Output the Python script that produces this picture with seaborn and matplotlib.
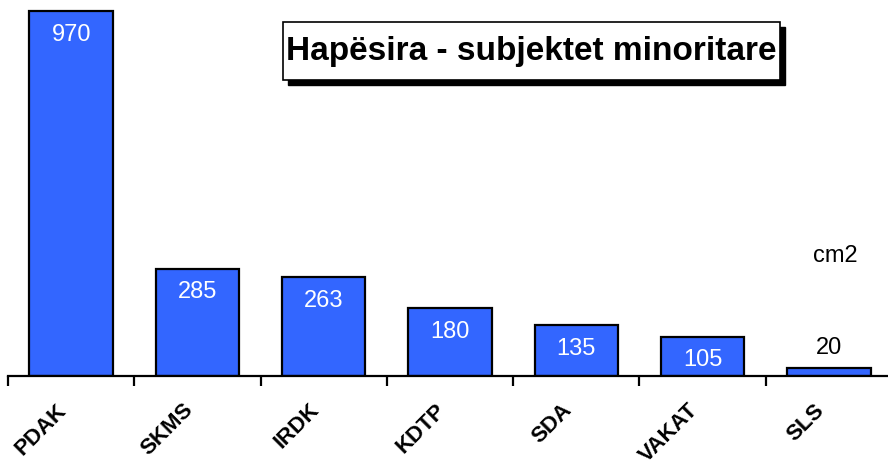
import matplotlib
matplotlib.use('Agg')
import matplotlib.pyplot as plt
from matplotlib.patches import Rectangle
import seaborn as sns
import pandas as pd

# data
parties = ['PDAK', 'SKMS', 'IRDK', 'KDTP', 'SDA', 'VAKAT', 'SLS']
space_cm2 = [970, 285, 263, 180, 135, 105, 20]

title = 'Hapësira - subjektet minoritare'
unit = 'cm2'

sns.set_style('white')
plt.rcParams['font.family'] = ['Liberation Sans', 'DejaVu Sans']
plt.rcParams['text.color'] = 'black'
plt.rcParams['xtick.color'] = 'black'

df = pd.DataFrame({'party': parties, 'space': space_cm2})

fig = plt.figure(figsize=[8.88, 4.65], dpi=100)
ax = fig.add_axes([8 / 888, 1 - 376 / 465, 884 / 888, 376 / 465])

sns.barplot(data=df, x='party', y='space', color='#3366FF', saturation=1,
            edgecolor='black', linewidth=1.6, width=0.66, ax=ax)

ax.set_ylim(0, 1000)
ax.set_xlim(-0.5, len(parties) - 0.5)
ax.set_xlabel('')
ax.set_ylabel('')
ax.set_yticks([])

# only the bottom axis line is shown
for side in ['top', 'left', 'right']:
    ax.spines[side].set_visible(False)
ax.spines['bottom'].set_linewidth(1.6)
ax.spines['bottom'].set_color('black')

# ticks between categories, labels under the centres
ax.set_xticks(range(len(parties)))
ax.set_xticks([i - 0.5 for i in range(len(parties) + 1)], minor=True)
ax.tick_params(axis='x', which='major', length=0, pad=17)
ax.tick_params(axis='x', which='minor', length=7, width=1.6,
               direction='out', color='black', bottom=True)
ax.set_xticklabels(parties, rotation=45, ha='right', va='top',
                   fontsize=16, fontweight='bold', color='black')

# value labels: white inside the bars, black above the tiny one
for i, v in enumerate(space_cm2):
    if v > 60:
        ax.annotate(str(v), (i, v), xytext=(0, -17), textcoords='offset points',
                    ha='center', va='center', color='white', fontsize=17)
    else:
        ax.annotate(str(v), (i, v), xytext=(0, 15), textcoords='offset points',
                    ha='center', va='center', color='black', fontsize=17)

fig.text(835 / 888, 1 - 256 / 465, unit, ha='center', va='center',
         fontsize=17, color='black')

# title box with a drop shadow
bx0, by0, bw, bh = 283 / 888, 1 - 80 / 465, 497 / 888, 58 / 465
fig.patches.append(Rectangle((bx0 + 5 / 888, by0 - 5 / 465), bw, bh,
                             transform=fig.transFigure, facecolor='black',
                             edgecolor='black', zorder=5))
fig.patches.append(Rectangle((bx0, by0), bw, bh, transform=fig.transFigure,
                             facecolor='white', edgecolor='black',
                             linewidth=1.2, zorder=6))
fig.text(bx0 + bw / 2, by0 + bh / 2, title, ha='center', va='center',
         fontsize=24, fontweight='bold', color='black', zorder=7)

plt.savefig('out.png', dpi=100)
